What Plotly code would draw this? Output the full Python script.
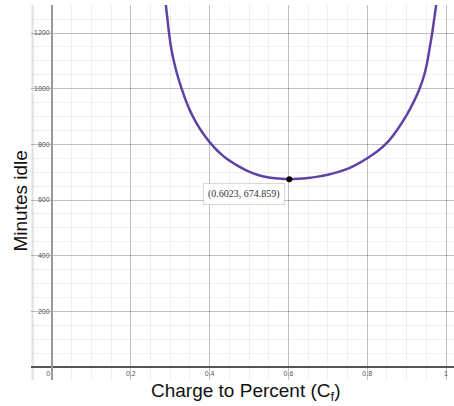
import plotly.graph_objects as go

# Curve samples (Charge to Percent, Minutes idle)
charge = [0.285, 0.289, 0.293, 0.297, 0.302, 0.309, 0.318, 0.329, 0.340, 0.350,
          0.360, 0.370, 0.380, 0.390, 0.400, 0.410, 0.420, 0.430, 0.440, 0.450,
          0.475, 0.500, 0.525, 0.550, 0.575, 0.6023, 0.625, 0.650, 0.675, 0.700,
          0.725, 0.750, 0.775, 0.800, 0.825, 0.850, 0.875, 0.900, 0.917, 0.933,
          0.945, 0.953, 0.959, 0.965, 0.970, 0.975, 0.979]
minutes = [1360, 1300, 1250, 1200, 1150, 1100, 1050, 1000, 956, 922,
           893, 868, 846, 826, 808, 792, 777, 764, 752, 742,
           720, 702, 689, 681, 677, 674.859, 676, 679, 684, 691,
           700, 712, 729, 750, 774, 805, 850, 905, 950, 1000,
           1050, 1100, 1150, 1200, 1250, 1300, 1360]

min_point_x = [0.6023]
min_point_y = [674.859]
min_label = "(0.6023, 674.859)"

x_ticks = [0, 0.2, 0.4, 0.6, 0.8, 1]
x_ticktext = ["0\u00a0\u00a0\u00a0\u00a0", "0.2", "0.4", "0.6", "0.8", "1"]
y_ticks = [200, 400, 600, 800, 1000, 1200]
y_ticktext = ["200", "400", "600", "800", "1000", "1200"]

x_title = "Charge to Percent (C<sub>f</sub>)"
y_title = "Minutes idle"

fig = go.Figure()
fig.add_trace(go.Scatter(x=charge, y=minutes, mode="lines",
                         line=dict(color="#6042a6", width=2.5, shape="spline", smoothing=1.0),
                         hoverinfo="skip", showlegend=False))
fig.add_trace(go.Scatter(x=min_point_x, y=min_point_y, mode="markers",
                         marker=dict(color="black", size=6), showlegend=False))

fig.add_annotation(x=min_point_x[0], y=min_point_y[0], xref="x", yref="y", text=min_label,
                   showarrow=False, xanchor="right", yanchor="top", xshift=-4, yshift=-4,
                   font=dict(family="Liberation Serif", size=10, color="#333"),
                   bgcolor="white", bordercolor="rgba(0,0,0,0.15)", borderwidth=1, borderpad=4)

# axis titles
fig.add_annotation(x=0.5076, y=-0.032, xref="paper", yref="paper", text=x_title, showarrow=False,
                   xanchor="center", yanchor="middle", font=dict(size=19, color="#111"))
fig.add_annotation(x=-0.026, y=0.476, xref="paper", yref="paper", text=y_title, showarrow=False,
                   textangle=-90, xanchor="center", yanchor="middle", font=dict(size=19, color="#111"))

# left panel shade
fig.add_shape(type="rect", xref="paper", yref="paper", x0=0, x1=0.008, y0=0, y1=1,
              fillcolor="rgba(0,0,0,0.06)", line=dict(width=0), layer="below")

grid_major = "rgba(0,0,0,0.2)"
grid_minor = "rgba(0,0,0,0.06)"

fig.update_layout(
    width=454, height=406,
    margin=dict(l=31, r=0, t=5, b=26),
    paper_bgcolor="white", plot_bgcolor="white",
    font=dict(family="Liberation Sans"),
    xaxis=dict(range=[-0.0533, 1.0203], tickvals=x_ticks, ticktext=x_ticktext,
               showgrid=True, gridcolor=grid_major, gridwidth=1,
               minor=dict(dtick=0.05, tick0=0, showgrid=True, gridcolor=grid_minor, gridwidth=1),
               zeroline=False, showline=True, linecolor="#555", linewidth=1.5,
               anchor="free", position=0.0347, ticks="", automargin=False,
               tickfont=dict(size=7, color="#555")),
    yaxis=dict(range=[-46.7, 1300.6], tickvals=y_ticks, ticktext=y_ticktext,
               showgrid=True, gridcolor=grid_major, gridwidth=1,
               minor=dict(dtick=50, tick0=0, showgrid=True, gridcolor=grid_minor, gridwidth=1),
               zeroline=False, showline=True, linecolor="#999", linewidth=2,
               anchor="free", position=0.0496, ticks="", automargin=False,
               tickfont=dict(size=7, color="#555")),
)

fig.write_html("out.html", config={"displayModeBar": False},
               post_script="document.body.style.margin='0';")
